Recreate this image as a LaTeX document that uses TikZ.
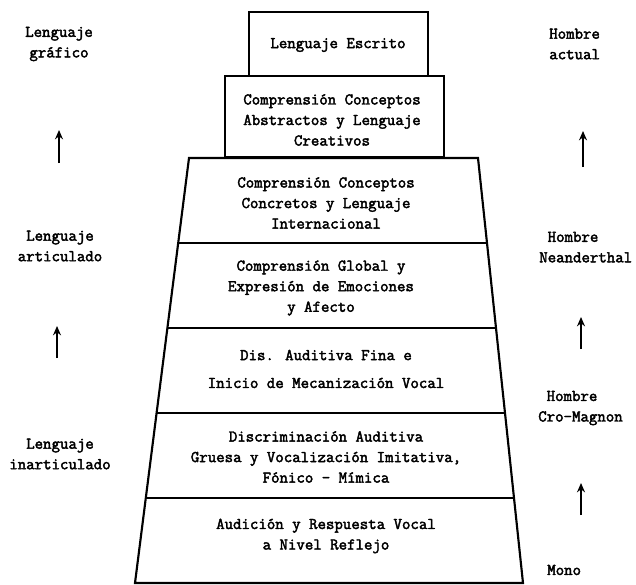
\documentclass[tikz,border=0pt]{standalone}
\usepackage{fontspec}
\usetikzlibrary{arrows.meta, calc}

\newfontfamily\typewriter{Latin Modern Mono}[FakeBold=2.5]

\tikzset{
    block/.style={line width=1.6pt},
    lbl/.style={font=\typewriter\fontsize{12.3}{15.4}\selectfont, align=center, inner sep=0pt},
    side/.style={lbl, align=left, anchor=west},
    uparrow/.style={line width=1.6pt, -{Stealth[length=7pt, width=6pt]}}
}

\begin{document}
\begin{tikzpicture}[x=0.75pt, y=-0.75pt]
    \useasboundingbox (0,0) rectangle (636,585);

    % Trapezoid with five levels
    \coordinate (tl) at (189,158);
    \coordinate (tr) at (478,158);
    \coordinate (bl) at (135,583);
    \coordinate (br) at (523,583);
    \draw[block] (tl) -- (bl) -- (br) -- (tr) -- cycle;
    \foreach \t in {0.2,0.4,0.6,0.8}
        \draw[block] ($(tl)!\t!(bl)$) -- ($(tr)!\t!(br)$);

    % Two blocks on top
    \draw[block] (225,157) rectangle (444,76);
    \draw[block] (249,76) rectangle (428,12);

    % Texts inside
    \node[lbl] (escrito) at (338,45) {Lenguaje Escrito};
    \node[lbl] (abstractos) at (332,120) {Comprensión Conceptos\\Abstractos y Lenguaje\\Creativos};
    \node[lbl] (concretos) at (326,203) {Comprensión Conceptos\\Concretos y Lenguaje\\Internacional};
    \node[lbl] (global) at (321,288) {Comprensión Global y\\Expresión de Emociones\\y Afecto};
    \node[lbl] (fina) at (326,369) {Dis. Auditiva Fina e\\[5.5pt]Inicio de Mecanización Vocal};
    \node[lbl] (gruesa) at (326,457) {Discriminación Auditiva\\Gruesa y Vocalización Imitativa,\\Fónico - Mímica};
    \node[lbl] (reflejo) at (326,536) {Audición y Respuesta Vocal\\a Nivel Reflejo};

    % Left column
    \node[lbl] (grafico) at (59,44) {Lenguaje\\gráfico};
    \node[lbl] (articulado) at (60,246) {Lenguaje\\articulado};
    \node[lbl] (inarticulado) at (60,454) {Lenguaje\\inarticulado};

    \coordinate (la1) at (59,163);
    \coordinate (lb1) at (59,130);
    \coordinate (la2) at (57,358);
    \coordinate (lb2) at (57,326);
    \draw[uparrow] (la1) -- (lb1);
    \draw[uparrow] (la2) -- (lb2);

    % Right column
    \node[side] (actual) at (549,44) {Hombre\\actual};
    \node[side] (neander) at (539,247) {\phantom{0}Hombre\\Neanderthal};
    \node[side] (cromagnon) at (538,408) {\phantom{0}Hombre\\Cro-Magnon};
    \node[side] (mono) at (547,570) {Mono};

    \coordinate (ra1) at (583,167);
    \coordinate (rb1) at (583,131);
    \coordinate (ra2) at (581,349);
    \coordinate (rb2) at (581,317);
    \coordinate (ra3) at (581,515);
    \coordinate (rb3) at (581,483);
    \draw[uparrow] (ra1) -- (rb1);
    \draw[uparrow] (ra2) -- (rb2);
    \draw[uparrow] (ra3) -- (rb3);
\end{tikzpicture}
\end{document}
